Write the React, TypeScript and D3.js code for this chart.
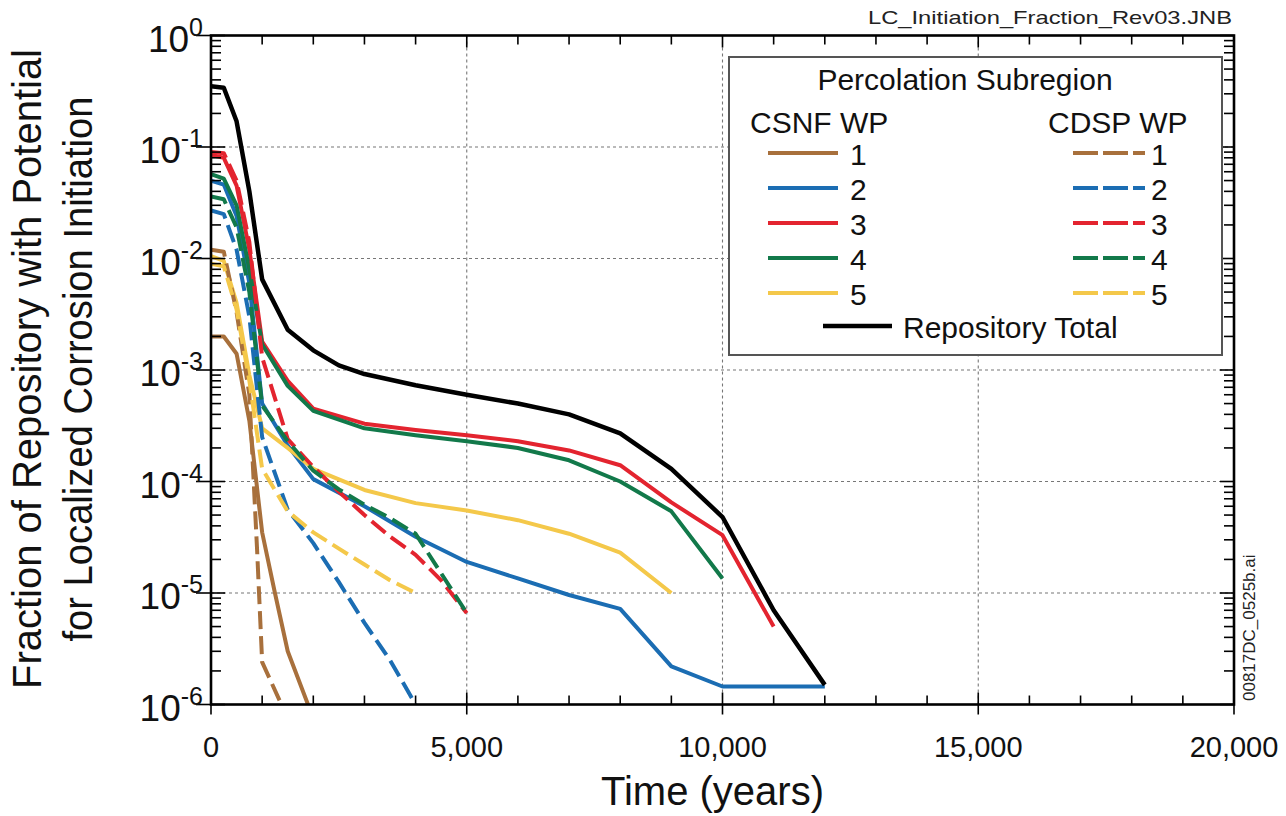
import React from 'react';
import * as d3 from 'd3';

type Pt = [number, number];

// Repository total and the ten percolation subregion curves [years, fraction]
const repoTotal: Pt[] = [[0, 0.35], [250, 0.34], [500, 0.17], [750, 0.04], [1000, 0.0065], [1500, 0.0023], [2000, 0.0015], [2500, 0.0011], [3000, 0.00092], [4000, 0.00073], [5000, 0.0006], [6000, 0.0005], [7000, 0.0004], [8000, 0.00027], [9000, 0.00013], [10000, 4.8e-5], [11000, 7e-6], [12000, 1.5e-6]];

const csnf1: Pt[] = [[0, 0.002], [250, 0.002], [500, 0.0014], [750, 0.00035], [1000, 3.5e-5], [1250, 1e-5], [1500, 3e-6], [2000, 7.5e-7]];
const csnf2: Pt[] = [[0, 0.05], [250, 0.046], [500, 0.024], [750, 0.006], [1000, 0.0005], [1500, 0.00021], [2000, 0.000105], [3000, 6e-5], [4000, 3.2e-5], [5000, 1.9e-5], [6000, 1.35e-5], [7000, 9.6e-6], [8000, 7.2e-6], [9000, 2.2e-6], [10000, 1.45e-6], [11000, 1.45e-6], [12000, 1.45e-6]];
const csnf3: Pt[] = [[0, 0.085], [250, 0.08], [500, 0.045], [750, 0.012], [1000, 0.0018], [1500, 0.0008], [2000, 0.00045], [3000, 0.00033], [4000, 0.00029], [5000, 0.00026], [6000, 0.00023], [7000, 0.00019], [8000, 0.00014], [9000, 6.5e-5], [10000, 3.3e-5], [11000, 5e-6]];
const csnf4: Pt[] = [[0, 0.057], [250, 0.052], [500, 0.03], [750, 0.008], [1000, 0.0017], [1500, 0.00072], [2000, 0.00043], [3000, 0.0003], [4000, 0.00026], [5000, 0.00023], [6000, 0.0002], [7000, 0.000155], [8000, 0.0001], [9000, 5.4e-5], [10000, 1.35e-5]];
const csnf5: Pt[] = [[0, 0.0105], [250, 0.0095], [500, 0.004], [750, 0.0009], [1000, 0.0003], [1500, 0.0002], [2000, 0.00013], [3000, 8.4e-5], [4000, 6.4e-5], [5000, 5.5e-5], [6000, 4.5e-5], [7000, 3.4e-5], [8000, 2.3e-5], [9000, 1e-5]];

const cdsp1: Pt[] = [[0, 0.012], [250, 0.0115], [500, 0.0033], [750, 0.0006], [900, 2.5e-5], [1000, 2.4e-6], [1500, 7.5e-7]];
const cdsp2: Pt[] = [[0, 0.027], [250, 0.025], [500, 0.012], [750, 0.003], [1000, 0.00025], [1500, 5.6e-5], [2000, 2.8e-5], [2500, 1.25e-5], [3000, 5.4e-6], [3500, 2.5e-6], [4000, 1e-6]];
const cdsp3: Pt[] = [[0, 0.09], [250, 0.088], [500, 0.05], [750, 0.014], [1000, 0.0013], [1500, 0.00024], [2000, 0.000135], [2500, 8.1e-5], [3000, 5e-5], [3500, 3.2e-5], [4000, 2.2e-5], [4500, 1.3e-5], [5000, 6.6e-6]];
const cdsp4: Pt[] = [[0, 0.036], [250, 0.034], [500, 0.019], [750, 0.005], [1000, 0.00048], [1500, 0.00023], [2000, 0.000125], [2500, 8.5e-5], [3000, 6.2e-5], [3500, 4.7e-5], [4000, 3.4e-5], [4500, 1.5e-5], [5000, 6.6e-6]];
const cdsp5: Pt[] = [[0, 0.009], [250, 0.0085], [500, 0.0035], [750, 0.0008], [1000, 0.00013], [1500, 5.4e-5], [2000, 3.5e-5], [2500, 2.5e-5], [3000, 1.8e-5], [3500, 1.3e-5], [4000, 1e-5]];

const subregions = ['1', '2', '3', '4', '5'];
const colors = ['#a8703c', '#1b6db3', '#e3242f', '#12794a', '#f4c84a'];
const csnfSeries = [csnf1, csnf2, csnf3, csnf4, csnf5];
const cdspSeries = [cdsp1, cdsp2, cdsp3, cdsp4, cdsp5];

const W = 1286;
const H = 816;
const margin = { left: 211, right: 52, top: 35.5, bottom: 111.5 };
const FONT = '"Liberation Sans", Arial, Helvetica, sans-serif';

const App = () => {
  const x = d3.scaleLinear().domain([0, 20000]).range([margin.left, W - margin.right]);
  const y = d3.scaleLog().domain([1e-6, 1]).range([H - margin.bottom, margin.top]);
  const [x0, x1] = x.range();
  const [y0, y1] = y.range(); // y0 bottom, y1 top

  const line = d3.line<Pt>()
    .x(d => x(d[0]))
    .y(d => y(d[1]));

  const xMinor = x.ticks(20);
  const xMajor = x.ticks(4);
  const yAll = y.ticks();
  const isMajor = (v: number) => Math.abs(Math.log10(v) - Math.round(Math.log10(v))) < 1e-9;
  const yMajor = yAll.filter(isMajor);
  const yMinor = yAll.filter(v => !isMajor(v));

  const dash = '18,7';
  const lw = 4;

  // legend layout
  const lg = { x: 729, y: 57, w: 493, h: 298 };
  const rowY = (i: number) => 153 + i * 35;

  return (
    <svg width={W} height={H} style={{ position: 'absolute', left: 0, top: 0, background: '#fff' }} fontFamily={FONT}>
      <defs>
        <clipPath id="plot">
          <rect x={x0} y={y1} width={x1 - x0} height={y0 - y1} />
        </clipPath>
      </defs>
      <rect x={0} y={0} width={W} height={H} fill="#fff" />

      {/* grid */}
      <g stroke="#777" strokeWidth={1.1} strokeDasharray="3,3">
        {yMajor.filter(v => v > 1e-6 && v < 1).map(v => (
          <line key={'gy' + v} x1={x0} x2={x1} y1={y(v)} y2={y(v)} />
        ))}
        {xMajor.filter(v => v > 0 && v < 20000).map(v => (
          <line key={'gx' + v} x1={x(v)} x2={x(v)} y1={y1} y2={y0} />
        ))}
      </g>

      {/* curves */}
      <g clipPath="url(#plot)" fill="none" strokeLinejoin="round">
        {csnfSeries.map((s, i) => (
          <path key={'s' + i} d={line(s) || ''} stroke={colors[i]} strokeWidth={lw} />
        ))}
        {cdspSeries.map((s, i) => (
          <path key={'d' + i} d={line(s) || ''} stroke={colors[i]} strokeWidth={lw} strokeDasharray={dash} />
        ))}
        <path d={line(repoTotal) || ''} stroke="#000" strokeWidth={4.5} />
      </g>

      {/* frame and ticks */}
      <g stroke="#000" strokeWidth={1.6}>
        {xMinor.map(v => {
          const major = xMajor.includes(v);
          return (
            <g key={'tx' + v}>
              <line x1={x(v)} x2={x(v)} y1={y0 + (major ? 10 : 0)} y2={y0 - (major ? 12 : 9)} />
              <line x1={x(v)} x2={x(v)} y1={y1} y2={y1 + (major ? 12 : 9)} />
            </g>
          );
        })}
        {yMinor.map(v => (
          <g key={'ty' + v}>
            <line x1={x0} x2={x0 + 10} y1={y(v)} y2={y(v)} />
            <line x1={x1} x2={x1 - 10} y1={y(v)} y2={y(v)} />
          </g>
        ))}
        {yMajor.map(v => (
          <g key={'tyM' + v}>
            <line x1={x0 - 15} x2={x0 + 14} y1={y(v)} y2={y(v)} />
            <line x1={x1} x2={x1 - 14} y1={y(v)} y2={y(v)} />
          </g>
        ))}
      </g>
      <rect x={x0} y={y1} width={x1 - x0} height={y0 - y1} fill="none" stroke="#000" strokeWidth={2.6} />

      {/* tick labels */}
      <g fontSize={29} fill="#111" textAnchor="middle">
        {xMajor.map(v => (
          <text key={'lx' + v} x={x(v)} y={y0 + 52}>{d3.format(',')(v)}</text>
        ))}
      </g>
      <g fill="#111" textAnchor="end">
        {yMajor.map(v => (
          <text key={'ly' + v} x={x0 - 8} y={y(v) + 16} fontSize={37}>
            10<tspan dy={-16} fontSize={25}>{Math.round(Math.log10(v)) === 0 ? '0' : '-' + Math.abs(Math.round(Math.log10(v)))}</tspan>
          </text>
        ))}
      </g>

      {/* axis titles */}
      <text x={(x0 + x1) / 2 - 10} y={805} fontSize={40} textAnchor="middle" fill="#111">Time (years)</text>
      <g transform={`translate(41, 369) rotate(-90)`} fill="#111">
        <text x={0} y={0} fontSize={40} textAnchor="middle" textLength={640} lengthAdjust="spacingAndGlyphs">Fraction of Repository with Potential</text>
        <text x={0} y={51} fontSize={40} textAnchor="middle" textLength={545} lengthAdjust="spacingAndGlyphs">for Localized Corrosion Initiation</text>
      </g>

      {/* file tags */}
      <text x={1232} y={24} fontSize={19} textAnchor="end" textLength={364} lengthAdjust="spacingAndGlyphs" fill="#222">LC_Initiation_Fraction_Rev03.JNB</text>
      <text transform="translate(1255, 701) rotate(-90)" fontSize={17} fill="#222">00817DC_0525b.ai</text>

      {/* legend */}
      <g>
        <rect x={lg.x} y={lg.y} width={lg.w} height={lg.h} fill="#fff" stroke="#555" strokeWidth={2} />
        <text x={965} y={90} fontSize={30} textAnchor="middle" fill="#111">Percolation Subregion</text>
        <text x={750} y={133} fontSize={30} fill="#111">CSNF WP</text>
        <text x={1048} y={133} fontSize={30} fill="#111">CDSP WP</text>
        {subregions.map((s, i) => (
          <g key={'lg' + s}>
            <line x1={768} x2={838} y1={rowY(i)} y2={rowY(i)} stroke={colors[i]} strokeWidth={lw} />
            <text x={850} y={rowY(i) + 12} fontSize={30} fill="#111">{s}</text>
            <line x1={1073} x2={1145} y1={rowY(i)} y2={rowY(i)} stroke={colors[i]} strokeWidth={lw} strokeDasharray="25,5" />
            <text x={1151} y={rowY(i) + 12} fontSize={30} fill="#111">{s}</text>
          </g>
        ))}
        <line x1={823} x2={892} y1={326} y2={326} stroke="#000" strokeWidth={4.5} />
        <text x={903} y={338} fontSize={30} fill="#111">Repository Total</text>
      </g>
    </svg>
  );
};

export default App;
